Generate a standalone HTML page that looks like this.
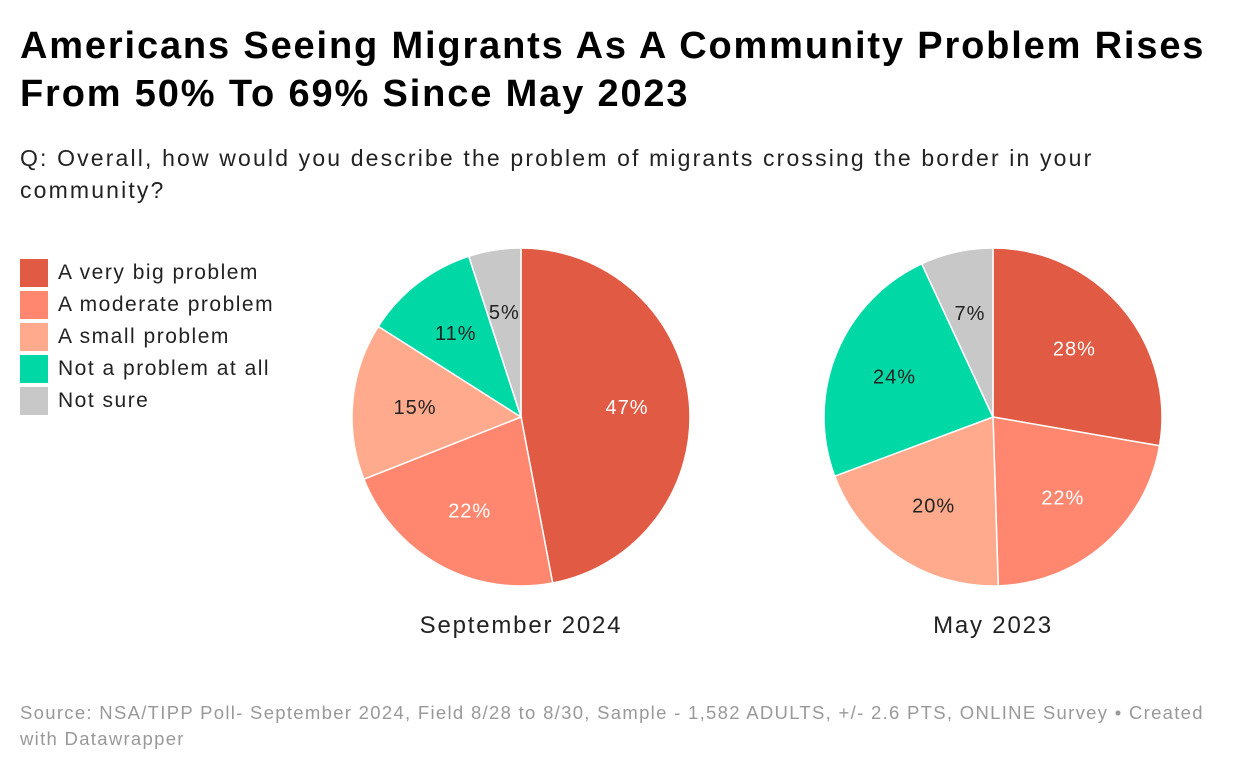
<!DOCTYPE html>
<html><head><meta charset="utf-8"><style>
body{margin:0;width:1240px;height:772px;background:#fff;font-family:"Liberation Sans",Roboto,sans-serif;position:relative;overflow:hidden}
h1{position:absolute;left:20px;top:22px;margin:0;font-size:38px;line-height:48px;font-weight:700;color:#000;width:1220px;letter-spacing:1.85px;white-space:nowrap}
.sub{position:absolute;left:20px;top:142px;font-size:23px;line-height:32px;color:#222;width:1220px;letter-spacing:2.15px;white-space:nowrap}
.legend{position:absolute;left:20px;top:257px}
.li{display:flex;align-items:center;height:32px;font-size:21px;color:#222;letter-spacing:1.5px}
.sw{width:28px;height:28px;margin-right:10px}
.src{position:absolute;left:20px;top:700px;font-size:18.5px;line-height:26px;color:#999;width:1220px;letter-spacing:1.3px;white-space:nowrap}
svg{position:absolute;left:0;top:0}
</style></head><body>
<h1>Americans Seeing Migrants As A Community Problem Rises<br>From 50% To 69% Since May 2023</h1>
<div class="sub">Q: Overall, how would you describe the problem of migrants crossing the border in your<br>community?</div>
<div class="legend">
<div class="li"><div class="sw" style="background:#e05a44"></div>A very big problem</div>
<div class="li"><div class="sw" style="background:#ff876f"></div>A moderate problem</div>
<div class="li"><div class="sw" style="background:#ffaa8d"></div>A small problem</div>
<div class="li"><div class="sw" style="background:#00d9a6"></div>Not a problem at all</div>
<div class="li"><div class="sw" style="background:#c8c8c8"></div>Not sure</div>
</div>
<svg id="chart" width="1240" height="772"></svg>
<div class="src">Source: NSA/TIPP Poll- September 2024, Field 8/28 to 8/30, Sample - 1,582 ADULTS, +/- 2.6 PTS, ONLINE Survey • Created<br>with Datawrapper</div>
<script>
const categories=["very-big","moderate","small","not-a-problem","not-sure"];
const sep2024=[47,22,15,11,5];
const may2023=[28,22,20,24,7];
const colors=["#e05a44","#ff876f","#ffaa8d","#00d9a6","#c8c8c8"];
const labelColors=["#fff","#fff","#222","#222","#222"];
const NS="http://www.w3.org/2000/svg";
const svg=document.getElementById('chart');
function pie(vals,cx,cy,r,title,key){
  const total=vals.reduce((a,b)=>a+b,0);
  let a0=0;
  vals.forEach((v,i)=>{
    const a1=a0+v/total*2*Math.PI;
    const p=(a)=>[cx+r*Math.sin(a),cy-r*Math.cos(a)];
    const [x0,y0]=p(a0),[x1,y1]=p(a1);
    const path=document.createElementNS(NS,'path');
    path.setAttribute('d',`M${cx},${cy}L${x0},${y0}A${r},${r} 0 ${a1-a0>Math.PI?1:0} 1 ${x1},${y1}Z`);
    path.setAttribute('fill',colors[i]);path.setAttribute('stroke','#fff');path.setAttribute('stroke-width','1.5');
    
    
    svg.appendChild(path);
    const am=(a0+a1)/2, lr=r*0.63;
    const t=document.createElementNS(NS,'text');
    t.setAttribute('x',cx+lr*Math.sin(am));t.setAttribute('y',cy-lr*Math.cos(am)+7);
    t.setAttribute('text-anchor','middle');t.setAttribute('font-size','20');t.setAttribute('fill',labelColors[i]);
    t.setAttribute('letter-spacing','1');
    t.setAttribute('font-family','Liberation Sans, sans-serif');
    t.textContent=v+'%';
    
    
    svg.appendChild(t);
    a0=a1;
  });
  const t=document.createElementNS(NS,'text');
  t.setAttribute('x',cx);t.setAttribute('y',633);t.setAttribute('text-anchor','middle');
  t.setAttribute('font-size','24');t.setAttribute('fill','#222');t.setAttribute('font-family','Liberation Sans, sans-serif');
  t.setAttribute('letter-spacing','1.8');
  t.textContent=title;
  
  
  svg.appendChild(t);
}
pie(sep2024,521,417,169,"September 2024","sep-2024");
pie(may2023,993,417,169,"May 2023","may-2023");
</script>
</body></html>
